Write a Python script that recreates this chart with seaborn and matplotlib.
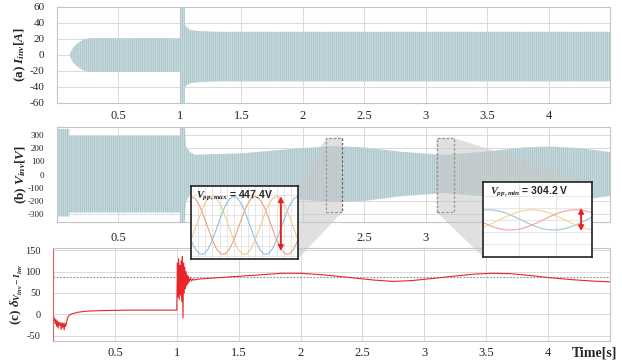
import numpy as np
import matplotlib
matplotlib.use("Agg")
import matplotlib.pyplot as plt
import seaborn as sns
from matplotlib.patches import Polygon, Rectangle

# ---- data ----
# (a) inverter current envelope [A]
t_a = [0.10, 0.13, 0.17, 0.21, 0.26, 1.00, 1.00, 1.04, 1.04, 1.06, 1.09, 1.15, 1.30, 4.50]
ia_top = [0, 9, 15, 19, 21, 21, 62, 62, 38, 34, 31, 30, 29, 29]
ia_bot = [0, -9, -15, -19, -21, -21, -62, -62, -40, -37, -35, -34, -33, -33]

# (b) inverter voltage envelope [V]
t_b = [0.0, 0.10, 0.10, 1.00, 1.00, 1.04, 1.05, 1.08, 1.12, 1.5, 1.8, 2.0, 2.25, 2.5,
       2.8, 3.15, 3.5, 3.8, 4.0, 4.25, 4.5]
vb_top = [345, 345, 292, 292, 360, 360, 215, 170, 150, 160, 185, 200, 215, 205,
          172, 148, 175, 205, 212, 200, 170]
vb_bot = [-318, -318, -288, -288, -360, -360, -205, -160, -142, -150, -175, -192, -210, -200,
          -165, -140, -168, -200, -205, -195, -162]

# (c) phase difference between V_inv and I_inv
t_c = [0.000, 0.006, 0.012, 0.018, 0.024, 0.030, 0.036, 0.042, 0.048, 0.054, 0.060, 0.066,
       0.072, 0.078, 0.084, 0.090, 0.096, 0.102, 0.108, 0.115, 0.125, 0.14, 0.16, 0.20,
       0.25, 0.30, 0.40, 0.60, 1.000,
       1.005, 1.010, 1.015, 1.020, 1.025, 1.030, 1.035, 1.040, 1.045, 1.050, 1.055, 1.060,
       1.065, 1.070, 1.075, 1.080, 1.085, 1.090, 1.095, 1.100, 1.110, 1.120, 1.130, 1.140,
       1.160, 1.200, 1.300, 1.500, 1.700, 1.850, 2.000, 2.200, 2.400, 2.600, 2.750, 2.900,
       3.000, 3.200, 3.400, 3.550, 3.700, 3.850, 4.000, 4.200, 4.350, 4.500]
d_c = [-5, -15, -8, -22, -12, -28, -15, -32, -18, -25, -20, -35,
       -19, -30, -21, -36, -20, -28, -22, -10, -4, 0, 2, 5,
       7, 8, 9, 10, 10,
       120, 40, 130, 35, 115, 45, 125, 30, 135, -8, 120, 50,
       110, 60, 100, 68, 92, 72, 88, 76, 85, 78, 83, 80,
       82, 83, 85, 89, 93, 96, 96, 92, 86, 80, 77, 79,
       82, 88, 94, 96, 95, 91, 86, 81, 78, 76]
d_ref = 87

# zoom at V_pp,max (normalised phase voltages)
zx_max = [0.00, 0.04, 0.08, 0.12, 0.16, 0.20, 0.24, 0.28, 0.32, 0.36, 0.40, 0.44, 0.48,
          0.52, 0.56, 0.60, 0.64, 0.68, 0.72, 0.76, 0.80, 0.84, 0.88, 0.92, 0.96, 1.00]
va_max = [-0.5, -0.81, -0.98, -0.98, -0.81, -0.5, -0.1, 0.31, 0.67, 0.91, 1.0, 0.91, 0.67,
          0.31, -0.1, -0.5, -0.81, -0.98, -0.98, -0.81, -0.5, -0.1, 0.31, 0.67, 0.91, 1.0]
vb_max = [1.0, 0.91, 0.67, 0.31, -0.1, -0.5, -0.81, -0.98, -0.98, -0.81, -0.5, -0.1, 0.31,
          0.67, 0.91, 1.0, 0.91, 0.67, 0.31, -0.1, -0.5, -0.81, -0.98, -0.98, -0.81, -0.5]
vc_max = [-0.5, -0.1, 0.31, 0.67, 0.91, 1.0, 0.91, 0.67, 0.31, -0.1, -0.5, -0.81, -0.98,
          -0.98, -0.81, -0.5, -0.1, 0.31, 0.67, 0.91, 1.0, 0.91, 0.67, 0.31, -0.1, -0.5]

# zoom at V_pp,min
zx_min = [0.00, 0.05, 0.10, 0.15, 0.20, 0.25, 0.30, 0.35, 0.40, 0.45, 0.50,
          0.55, 0.60, 0.65, 0.70, 0.75, 0.80, 0.85, 0.90, 0.95, 1.00]
va_min = [0.97, 1.0, 0.97, 0.87, 0.71, 0.5, 0.26, 0.0, -0.26, -0.5, -0.71,
          -0.87, -0.97, -1.0, -0.97, -0.87, -0.71, -0.5, -0.26, 0.0, 0.26]
vb_min = [-0.71, -0.5, -0.26, 0.0, 0.26, 0.5, 0.71, 0.87, 0.97, 1.0, 0.97,
          0.87, 0.71, 0.5, 0.26, 0.0, -0.26, -0.5, -0.71, -0.87, -0.97]
vc_min = [-0.26, -0.5, -0.71, -0.87, -0.97, -1.0, -0.97, -0.87, -0.71, -0.5, -0.26,
          0.0, 0.26, 0.5, 0.71, 0.87, 0.97, 1.0, 0.97, 0.87, 0.71]

x_ticks = [0.5, 1, 1.5, 2, 2.5, 3, 3.5, 4]
x_labels = ["0.5", "1", "1.5", "2", "2.5", "3", "3.5", "4"]
xb_labels = ["0.5", "", "", "", "2.5", "3", "", ""]

# ---- style ----
sns.set_theme(style="whitegrid", rc={
    "grid.color": "#d4d4d4", "grid.linewidth": 0.6,
    "axes.edgecolor": "#c4c4c4", "axes.linewidth": 0.8,
    "hatch.linewidth": 0.4, "axes.unicode_minus": False,
})
plt.rcParams["font.family"] = ["Liberation Serif", "DejaVu Serif"]
plt.rcParams["mathtext.fontset"] = "custom"
plt.rcParams["mathtext.it"] = "Liberation Serif:bold:italic"
plt.rcParams["mathtext.rm"] = "Liberation Serif:bold"
plt.rcParams["mathtext.bf"] = "Liberation Serif:bold"

W, H = 622, 363
fig = plt.figure(figsize=(W / 100, H / 100), dpi=100)


def px_rect(x0, y0, x1, y1):
    return [x0 / W, 1 - y1 / H, (x1 - x0) / W, (y1 - y0) / H]


ax_a = fig.add_axes(px_rect(57, 7, 610, 103))
ax_b = fig.add_axes(px_rect(57, 127, 610, 222))
ax_c = fig.add_axes(px_rect(53, 248, 610, 341))

band_face = "#c6d9dd"
band_hatch = "#9cb9bf"

# (a)
ax_a.fill_between(t_a, ia_bot, ia_top, facecolor=band_face, edgecolor=band_hatch,
                  hatch="||||||||", linewidth=0)
ax_a.set_xlim(0, 4.5)
ax_a.set_ylim(-60, 60)
ax_a.set_yticks([-60, -40, -20, 0, 20, 40, 60])
ax_a.set_xticks(x_ticks)
ax_a.set_xticklabels(x_labels)
ax_a.tick_params(axis="y", labelsize=8, pad=3)
ax_a.tick_params(axis="x", labelsize=9, pad=-1)
ax_a.set_ylabel(r"(a) $I_{inv}[A]$", fontsize=9.5, fontweight="bold")
ax_a.yaxis.set_label_coords(-0.052, 0.5)

# (b)
ax_b.fill_between(t_b, vb_bot, vb_top, facecolor=band_face, edgecolor=band_hatch,
                  hatch="||||||||", linewidth=0)
ax_b.set_xlim(0, 4.5)
ax_b.set_ylim(-360, 360)
ax_b.set_yticks([-300, -200, -100, 0, 100, 200, 300])
ax_b.set_xticks(x_ticks)
ax_b.set_xticklabels(xb_labels)
ax_b.tick_params(axis="y", labelsize=6.5, pad=3)
ax_b.tick_params(axis="x", labelsize=9, pad=1)
ax_b.set_ylabel(r"(b) $V_{inv}[V]$", fontsize=9.5, fontweight="bold")
ax_b.yaxis.set_label_coords(-0.05, 0.5)

box_max = (2.19, 2.32, -285, 277)
box_min = (3.09, 3.23, -285, 277)
for bx in (box_max, box_min):
    ax_b.add_patch(Rectangle((bx[0], bx[2]), bx[1] - bx[0], bx[3] - bx[2], fill=False,
                             edgecolor="#555555", linestyle=(0, (2, 1.5)), linewidth=0.9,
                             zorder=4))

# (c)
ax_c.axhline(d_ref, color="#8a8a8a", linestyle=(0, (1.5, 1.5)), linewidth=0.8)
sns.lineplot(x=t_c, y=d_c, ax=ax_c, color="#e8262a", linewidth=0.8, sort=False,
             estimator=None)
ax_c.set_xlim(0, 4.5)
ax_c.set_ylim(-62, 155)
ax_c.set_yticks([-50, 0, 50, 100, 150])
ax_c.set_xticks(x_ticks)
ax_c.set_xticklabels(x_labels)
ax_c.tick_params(axis="y", labelsize=7.5, pad=3)
ax_c.tick_params(axis="x", labelsize=9, pad=-1.5)
ax_c.spines["left"].set_color("#e0605f")
ax_c.set_ylabel(r"(c) $\delta_{V_{inv}-I_{inv}}$", fontsize=9.5, fontweight="bold")
ax_c.yaxis.set_label_coords(-0.05, 0.5)
fig.text(594 / W, 1 - 353 / H, "Time[s]", ha="center", va="center", fontsize=10,
         fontweight="bold")

# insets
in_max = fig.add_axes(px_rect(191, 186, 298, 259), zorder=5)
in_min = fig.add_axes(px_rect(483, 182, 592, 257), zorder=5)

sns.lineplot(x=zx_max, y=va_max, ax=in_max, color="#8ec0e2", linewidth=0.8)
sns.lineplot(x=zx_max, y=vb_max, ax=in_max, color="#e9a27e", linewidth=0.8)
sns.lineplot(x=zx_max, y=vc_max, ax=in_max, color="#f1cc8c", linewidth=0.8)
in_max.set_xlim(0, 1)
in_max.set_ylim(-1.15, 1.35)
in_max.set_xticks(np.arange(0, 1.0, 1 / 15))
in_max.set_yticks([-1.05, -0.7, -0.35, 0, 0.35, 0.7, 1.05])
in_max.text(0.05, 0.86, r"$V_{pp,max}$ = 447.4V", transform=in_max.transAxes,
            fontsize=7.5, fontweight="bold", family="Liberation Sans", va="center")
in_max.annotate("", xy=(0.84, 0.11), xytext=(0.84, 0.86), xycoords="axes fraction",
                arrowprops=dict(arrowstyle="<|-|>", color="#e52222", lw=1.4,
                                mutation_scale=7, shrinkA=0, shrinkB=0))

sns.lineplot(x=zx_min, y=va_min, ax=in_min, color="#9cc4e2", linewidth=0.8)
sns.lineplot(x=zx_min, y=vb_min, ax=in_min, color="#f4d290", linewidth=0.8)
sns.lineplot(x=zx_min, y=vc_min, ax=in_min, color="#f0a3a3", linewidth=0.8)
in_min.set_xlim(0, 1)
in_min.set_ylim(-3.66, 3.74)
in_min.set_xticks([1 / 3, 2 / 3])
in_min.set_yticks([-2.4, -1.2, 0, 1.2, 2.4])
in_min.text(0.06, 0.87, r"$V_{pp,min}$ = 304.2 V", transform=in_min.transAxes,
            fontsize=7.5, fontweight="bold", family="Liberation Sans", va="center")
in_min.annotate("", xy=(0.9, 0.345), xytext=(0.9, 0.655), xycoords="axes fraction",
                arrowprops=dict(arrowstyle="<|-|>", color="#e52222", lw=1.4,
                                mutation_scale=7, shrinkA=0, shrinkB=0))

for ia in (in_max, in_min):
    ia.set_facecolor("white")
    ia.tick_params(labelbottom=False, labelleft=False, length=0)
    ia.grid(True, color="#dcdcdc", linewidth=0.5)
    ia.set_xlabel("")
    ia.set_ylabel("")
    for s in ia.spines.values():
        s.set_color("#222222")
        s.set_linewidth(1.2)

# grey zoom wedges, computed from the dashed boxes and inset frames
inv = fig.transFigure.inverted()


def fig_pt(ax, x, y):
    return inv.transform(ax.transData.transform((x, y)))


def frame_pt(ia, fx, fy):
    return inv.transform(ia.transAxes.transform((fx, fy)))


wedge_max = [fig_pt(ax_b, box_max[0], box_max[3]), fig_pt(ax_b, box_max[1], box_max[3]),
             fig_pt(ax_b, box_max[1], box_max[2]), frame_pt(in_max, 1, 0),
             frame_pt(in_max, 1, 1)]
wedge_min = [fig_pt(ax_b, box_min[0], box_min[3]), fig_pt(ax_b, box_min[1], box_min[3]),
             frame_pt(in_min, 1, 1), frame_pt(in_min, 1, 0), frame_pt(in_min, 0, 0),
             fig_pt(ax_b, box_min[0], box_min[2])]
for wp in (wedge_max, wedge_min):
    fig.patches.append(Polygon(wp, closed=True, transform=fig.transFigure,
                               facecolor="#c8c8c8", edgecolor="none", alpha=0.55,
                               zorder=1))

fig.savefig("out.png", dpi=100)
